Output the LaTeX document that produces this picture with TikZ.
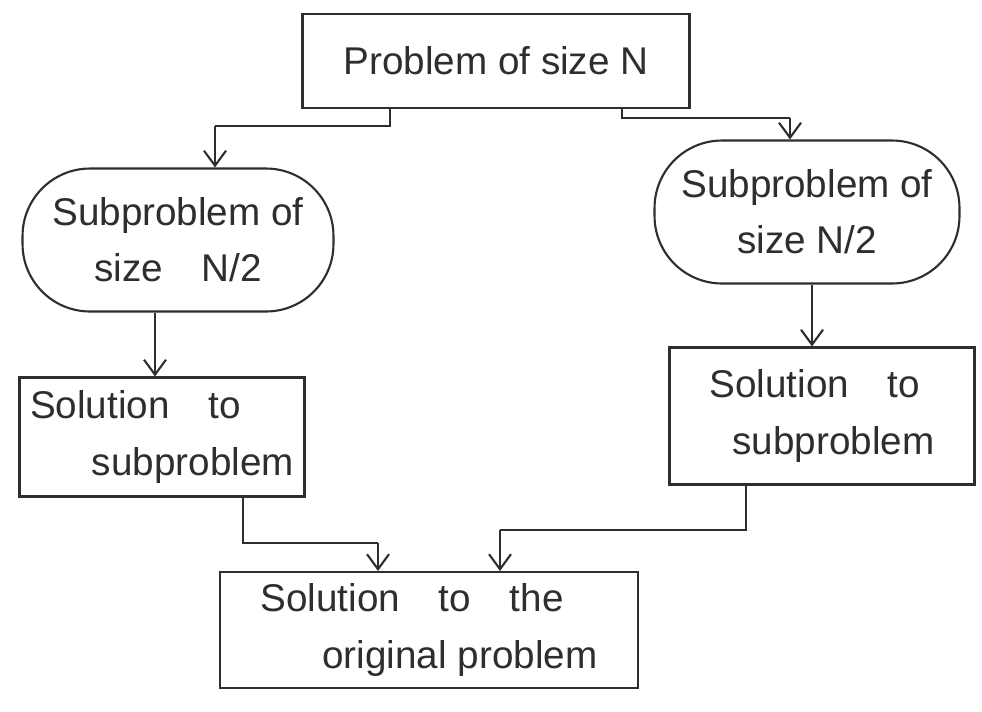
\documentclass[tikz,border=0pt]{standalone}
\usepackage{fontspec}
\setmainfont{Liberation Sans}
\usetikzlibrary{arrows.meta}
\definecolor{ink}{HTML}{2E2E2E}
\begin{document}
\begin{tikzpicture}[x=0.02cm,y=-0.02cm,
  every node/.style={font=\fontsize{22}{32}\selectfont, text=ink},
  box/.style={draw=ink, line width=1.2pt, rectangle, inner sep=0pt},
  blob/.style={draw=ink, line width=1.2pt, rectangle, rounded corners=1.35cm, inner sep=0pt},
  conn/.style={draw=ink, line width=1.2pt, -{Straight Barb[length=3mm,width=4.4mm]}},
  lead/.style={draw=ink, line width=1.2pt}]
\useasboundingbox[fill=white] (0,0) rectangle (982,711);

% problem and its two halves
\node[box, minimum width=7.74cm, minimum height=1.88cm] (top) at (496,61) {Problem of size N};
\node[blob, minimum width=6.22cm, minimum height=2.86cm, align=center] (sl) at (178,240)
  {Subproblem of\\size\quad N/2};
\node[blob, minimum width=6.1cm, minimum height=2.86cm, align=center] (sr) at (807,212)
  {Subproblem of\\size N/2};

% partial solutions
\node[box, minimum width=5.7cm, minimum height=2.38cm, align=left] (bl) at (162,437)
  {Solution\quad to\\\hspace*{1.6em}subproblem};
\node[box, minimum width=6.1cm, minimum height=2.74cm, align=left] (br) at (822,416)
  {Solution\quad to\\\hspace*{0.6em}subproblem};

% combined solution
\node[box, minimum width=8.36cm, minimum height=2.32cm, align=left] (fin) at (429,630)
  {Solution\quad to\quad the\\\hspace*{1.6em}original problem};

% bend points of the connectors
\coordinate (tl1) at (390,126);
\coordinate (tl2) at (215,126);
\coordinate (tr1) at (622,118);
\coordinate (tr2) at (790,118);
\coordinate (bl1) at (243,543);
\coordinate (bl2) at (378,543);
\coordinate (br1) at (746,530);
\coordinate (br2) at (500,530);

% split
\draw[lead] (top.south -| tl1) -- (tl1) -- (tl2);
\draw[conn] (tl2) -- (sl.north -| tl2);
\draw[lead] (top.south -| tr1) -- (tr1) -- (tr2);
\draw[conn] (tr2) -- (sr.north -| tr2);

% solve
\draw[conn] (sl.south -| 155,0) -- (bl.north -| 155,0);
\draw[conn] (sr.south -| 812,0) -- (br.north -| 812,0);

% combine
\draw[lead] (bl.south -| bl1) -- (bl1) -- (bl2);
\draw[conn] (bl2) -- (fin.north -| bl2);
\draw[lead] (br.south -| br1) -- (br1) -- (br2);
\draw[conn] (br2) -- (fin.north -| br2);
\end{tikzpicture}
\end{document}
